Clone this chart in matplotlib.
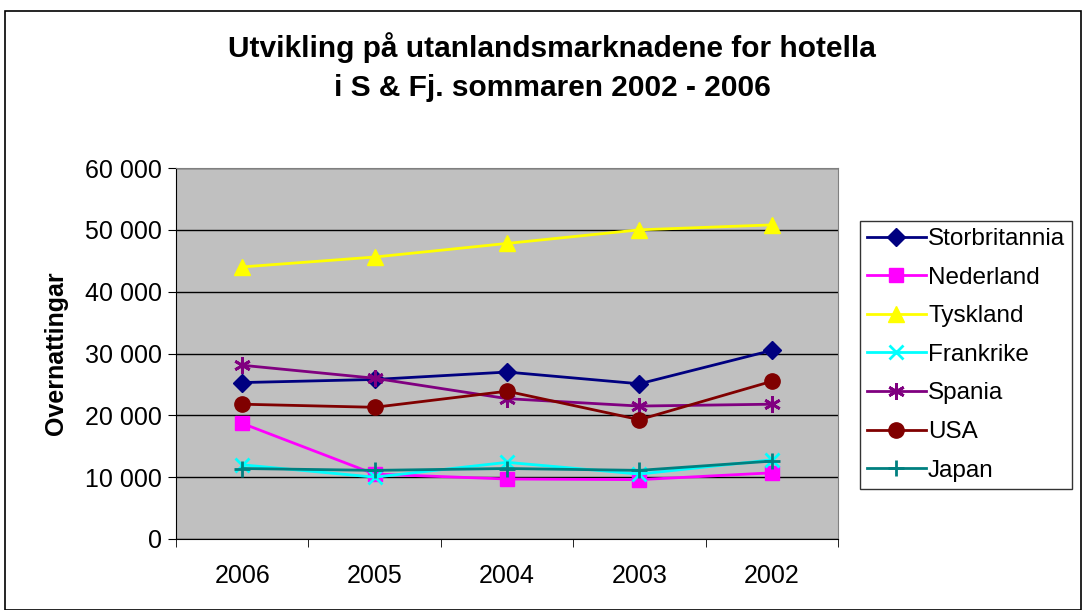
import numpy as np
import matplotlib.pyplot as plt
from matplotlib.ticker import FuncFormatter, FixedLocator
from matplotlib.patches import Rectangle

plt.rcParams['font.family'] = ['Liberation Sans', 'DejaVu Sans']

years = ["2006", "2005", "2004", "2003", "2002"]
storbritannia = [25300, 25800, 27000, 25100, 30500]
nederland = [18700, 10500, 9700, 9600, 10700]
tyskland = [44000, 45600, 47800, 50000, 50800]
frankrike = [12000, 10000, 12400, 10500, 12800]
spania = [28100, 26000, 22700, 21500, 21800]
usa = [21800, 21300, 23900, 19300, 25500]
japan = [11400, 11100, 11400, 11100, 12600]

series = [
    ("Storbritannia", storbritannia, "#000080", "D", 9),
    ("Nederland", nederland, "#FF00FF", "s", 10),
    ("Tyskland", tyskland, "#FFFF00", "^", 11),
    ("Frankrike", frankrike, "#00FFFF", "x", 10),
    ("Spania", spania, "#800080", (6, 2, 0), 12),
    ("USA", usa, "#800000", "o", 11),
    ("Japan", japan, "#008080", "+", 12),
]

fig = plt.figure(figsize=(10.83, 6.10), dpi=100)
fig.patches.append(Rectangle((0.005, 0.0), 0.993, 0.982, transform=fig.transFigure,
                             fill=False, edgecolor="black", linewidth=1.2))

ax = fig.add_axes([176/1083, 1 - 539/610, (838-176)/1083, (539-168)/610])
ax.set_facecolor("#C0C0C0")

x = np.arange(len(years))
for name, vals, col, mk, ms in series:
    ax.plot(x, vals, color=col, marker=mk, markersize=ms, linewidth=2,
            markeredgewidth=2 if mk in ("x", "+", (6, 2, 0)) else 1,
            markeredgecolor=col, label=name)

ax.set_xlim(-0.5, len(years) - 0.5)
ax.set_ylim(0, 60000)
ax.set_yticks(np.arange(0, 60001, 10000))
ax.yaxis.set_major_formatter(FuncFormatter(lambda v, p: f"{int(v):,}".replace(",", " ")))
ax.set_xticks(x)
ax.set_xticklabels(years)
ax.xaxis.set_minor_locator(FixedLocator(np.arange(-0.5, len(years), 1)))
ax.tick_params(axis="x", which="major", length=0, labelsize=18, pad=18)
ax.tick_params(axis="x", which="minor", length=6, direction="out", color="black")
ax.tick_params(axis="y", length=6, direction="out", labelsize=18, pad=4)
ax.grid(axis="y", color="black", linewidth=1)
ax.set_axisbelow(True)
for s in ["top", "right"]:
    ax.spines[s].set_color("#808080")
for s in ["left", "bottom"]:
    ax.spines[s].set_color("black")
ax.set_ylabel("Overnattingar", fontsize=18, fontweight="bold", labelpad=12)

fig.text(0.51, 1 - 48/610, "Utvikling på utanlandsmarknadene for hotella",
         ha="center", va="center", fontsize=21.5, fontweight="bold")
fig.text(0.51, 1 - 88/610, "i S & Fj. sommaren 2002 - 2006",
         ha="center", va="center", fontsize=21.5, fontweight="bold")

leg = fig.legend(loc="upper left", bbox_to_anchor=(860/1083, 1 - 221/610),
                 fontsize=17.5, frameon=True, fancybox=False, edgecolor="black",
                 handlelength=2.4, labelspacing=0.68, borderpad=0.3,
                 handletextpad=0.1, borderaxespad=0)
leg.get_frame().set_linewidth(1)

fig.savefig("out.png", dpi=100)
